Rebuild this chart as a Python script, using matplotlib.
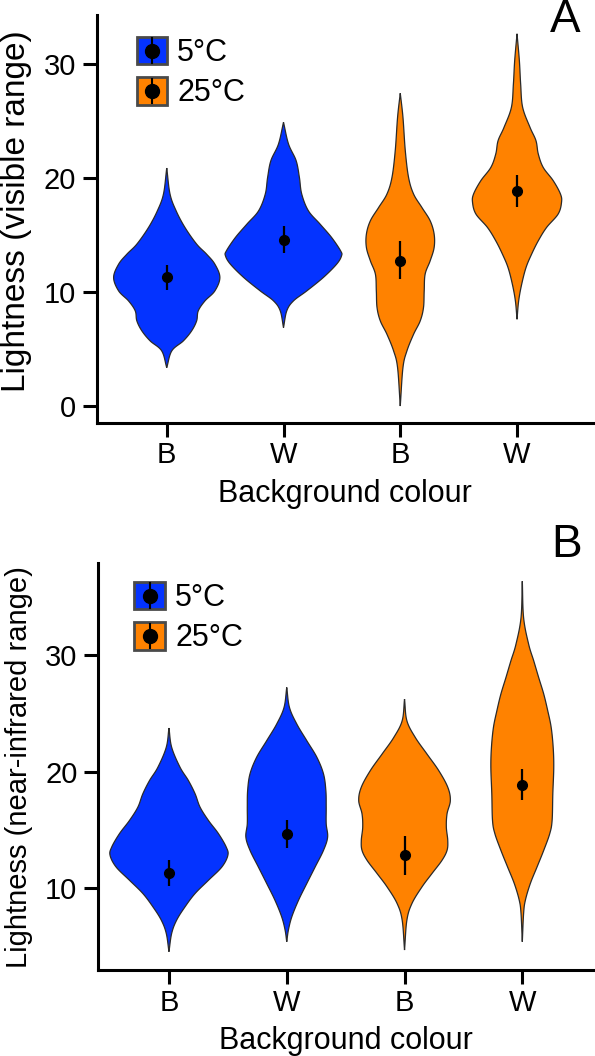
import numpy as np
import matplotlib
matplotlib.use("Agg")
import matplotlib.pyplot as plt
from matplotlib.patches import Patch, Rectangle
from matplotlib.lines import Line2D

plt.rcParams['font.family'] = ['Liberation Sans', 'DejaVu Sans']

# ---------------- data ----------------
categories = ["B", "W", "B", "W"]
temps = ["5°C", "25°C"]
positions = [1, 2, 3, 4]

# Panel A (visible range) violin profiles: value levels and half-widths (x units)
A1_y = [20.9, 18.62, 17.15, 15.68, 14.22, 13.34, 12.46, 11.29, 10.11, 9.23, 8.36, 7.48, 6.6, 5.72, 4.84, 3.37]
A1_w = [0.0, 0.028, 0.080, 0.156, 0.256, 0.341, 0.412, 0.455, 0.412, 0.327, 0.27, 0.256, 0.213, 0.142, 0.043, 0.0]
A2_y = [24.92, 23.01, 21.55, 20.08, 18.62, 17.15, 15.98, 14.8, 13.63, 13.19, 12.46, 11.29, 10.11, 9.23, 8.36, 6.89]
A2_w = [0.0, 0.043, 0.108, 0.136, 0.156, 0.213, 0.313, 0.412, 0.489, 0.497, 0.455, 0.341, 0.199, 0.085, 0.028, 0.0]
A3_y = [27.47, 25.36, 22.43, 20.08, 18.62, 17.44, 16.27, 15.1, 13.92, 12.75, 11.58, 10.11, 8.65, 7.48, 6.3, 4.84, 3.37, 0.0]
A3_w = [0.0, 0.023, 0.043, 0.071, 0.114, 0.185, 0.256, 0.29, 0.29, 0.256, 0.213, 0.205, 0.199, 0.171, 0.114, 0.057, 0.023, 0.0]
A4_y = [32.69, 30.34, 28.29, 26.24, 24.48, 23.31, 22.14, 20.96, 19.79, 18.62, 17.88, 16.86, 15.68, 14.51, 13.34, 12.16, 10.7, 9.23, 7.62]
A4_w = [0.0, 0.02, 0.031, 0.048, 0.111, 0.162, 0.182, 0.224, 0.31, 0.372, 0.381, 0.352, 0.253, 0.182, 0.125, 0.077, 0.04, 0.014, 0.0]
A_mean = [11.29, 14.60, 12.75, 18.85]
A_lo = [10.20, 13.43, 11.14, 17.44]
A_hi = [12.40, 15.77, 14.45, 20.29]

# Panel B (near-infrared range)
B1_y = [23.73, 22.08, 20.37, 19.23, 18.09, 16.95, 15.81, 14.68, 13.53, 12.82, 11.82, 10.68, 9.55, 8.4, 7.26, 6.13, 4.56]
B1_w = [0.0, 0.023, 0.094, 0.165, 0.222, 0.264, 0.335, 0.42, 0.486, 0.5, 0.449, 0.335, 0.222, 0.136, 0.065, 0.023, 0.0]
B2_y = [27.21, 25.5, 24.08, 22.65, 21.22, 19.8, 18.38, 16.95, 15.53, 14.38, 13.25, 11.82, 10.4, 8.97, 7.55, 6.41, 5.41]
B2_w = [0.0, 0.023, 0.085, 0.17, 0.256, 0.312, 0.332, 0.335, 0.335, 0.347, 0.312, 0.241, 0.17, 0.1, 0.043, 0.014, 0.0]
B3_y = [26.21, 24.36, 22.93, 21.51, 20.09, 18.66, 17.52, 16.38, 15.24, 14.1, 13.25, 12.39, 11.26, 10.11, 8.69, 7.26, 4.7]
B3_w = [0.0, 0.02, 0.091, 0.19, 0.29, 0.367, 0.389, 0.361, 0.355, 0.367, 0.361, 0.318, 0.233, 0.148, 0.063, 0.02, 0.0]
B4_y = [36.32, 33.19, 30.91, 29.49, 28.06, 26.64, 25.21, 23.79, 22.08, 20.37, 18.09, 15.81, 14.68, 13.25, 11.82, 10.4, 8.97, 7.84, 5.41]
B4_w = [0.0, 0.011, 0.054, 0.097, 0.139, 0.182, 0.216, 0.245, 0.262, 0.267, 0.259, 0.253, 0.233, 0.182, 0.125, 0.068, 0.026, 0.011, 0.0]
B_mean = [11.31, 14.62, 12.82, 18.89]
B_lo = [10.17, 13.48, 11.11, 17.52]
B_hi = [12.39, 15.81, 14.44, 20.23]

BLUE = '#0433FF'
ORANGE = '#FF8200'
violin_colors = [BLUE, BLUE, ORANGE, ORANGE]


def smooth(v, w, n=24):
    P = np.column_stack([v, w]).astype(float)
    m = np.zeros_like(P)
    m[1:-1] = (P[2:] - P[:-2]) / 2.0
    m[0] = P[1] - P[0]
    m[-1] = P[-1] - P[-2]
    t = np.linspace(0, 1, n, endpoint=False)[:, None]
    h00 = 2 * t**3 - 3 * t**2 + 1
    h10 = t**3 - 2 * t**2 + t
    h01 = -2 * t**3 + 3 * t**2
    h11 = t**3 - t**2
    segs = [h00 * P[i] + h10 * m[i] + h01 * P[i + 1] + h11 * m[i + 1] for i in range(len(P) - 1)]
    segs.append(P[-1:])
    out = np.vstack(segs)
    out[:, 1] = np.clip(out[:, 1], 0, None)
    return out[:, 0], out[:, 1]


def draw_violin(ax, pos, v, w, color):
    yy, ww = smooth(v, w)
    xs = np.concatenate([pos + ww, (pos - ww)[::-1]])
    ys = np.concatenate([yy, yy[::-1]])
    ax.fill(xs, ys, facecolor=color, edgecolor='#2a2a2a', linewidth=0.9, zorder=2)


class ViolinKeyHandler:
    """Legend key: coloured square with a black mean dot and error line."""
    def legend_artist(self, legend, orig_handle, fontsize, handlebox):
        x0, y0 = -handlebox.xdescent, -handlebox.ydescent
        w, h = handlebox.width, handlebox.height
        tr = handlebox.get_transform()
        rect = Rectangle((x0, y0), w, h, facecolor=orig_handle.get_facecolor(),
                         edgecolor='#4a4a4a', linewidth=2, transform=tr)
        vline = Line2D([x0 + w / 2, x0 + w / 2], [y0 + 1, y0 + h - 1], color='k',
                       linewidth=1.5, transform=tr)
        dot = Line2D([x0 + w / 2], [y0 + h / 2], marker='o', markersize=10, color='k',
                     linestyle='None', transform=tr)
        handlebox.add_artist(rect)
        handlebox.add_artist(vline)
        handlebox.add_artist(dot)
        return rect


fig = plt.figure(figsize=(5.95, 10.56), dpi=100)
axA = fig.add_axes([0.1625, 0.5991, 0.834, 0.3867])
axB = fig.add_axes([0.1652, 0.0810, 0.8314, 0.3861])

panels = [
    dict(ax=axA, profs=[(A1_y, A1_w), (A2_y, A2_w), (A3_y, A3_w), (A4_y, A4_w)],
         mean=A_mean, lo=A_lo, hi=A_hi, ylim=(-1.52, 34.34), yticks=[0, 10, 20, 30],
         ylabel="Lightness (visible range)", ylfs=24, ylab_y=0.52, xlim=(0.40, 4.65),
         legpos=(0.0806, 0.946)),
    dict(ax=axB, profs=[(B1_y, B1_w), (B2_y, B2_w), (B3_y, B3_w), (B4_y, B4_w)],
         mean=B_mean, lo=B_lo, hi=B_hi, ylim=(2.95, 37.9), yticks=[10, 20, 30],
         ylabel="Lightness (near-infrared range)", ylfs=21, ylab_y=0.5, xlim=(0.40, 4.60),
         legpos=(0.073, 0.953)),
]

for p in panels:
    ax = p['ax']
    for pos, (v, w), c in zip(positions, p['profs'], violin_colors):
        draw_violin(ax, pos, v, w, c)
    mean = np.array(p['mean']); lo = np.array(p['lo']); hi = np.array(p['hi'])
    ax.errorbar(positions, mean, yerr=[mean - lo, hi - mean], fmt='o', color='k',
                markersize=7, elinewidth=1.6, capsize=0, zorder=3)
    ax.set_xlim(*p['xlim'])
    ax.set_ylim(*p['ylim'])
    ax.set_yticks(p['yticks'])
    ax.set_xticks(positions)
    ax.set_xticklabels(categories)
    for s in ['top', 'right']:
        ax.spines[s].set_visible(False)
    for s in ['left', 'bottom']:
        ax.spines[s].set_linewidth(2.2)
    ax.tick_params(axis='both', length=10, width=2.2, labelsize=21, direction='out')
    ax.tick_params(axis='y', pad=5)
    ax.tick_params(axis='x', pad=3)
    ax.set_ylabel(p['ylabel'], fontsize=p['ylfs'])
    ax.yaxis.set_label_coords(-0.131, p['ylab_y'])
    ax.set_xlabel("Background colour", fontsize=22, labelpad=7)

    handles = [Patch(facecolor=c) for c in [BLUE, ORANGE]]
    ax.legend(handles, temps, handler_map={Patch: ViolinKeyHandler()},
              loc='upper left', bbox_to_anchor=p['legpos'], frameon=False, fontsize=22,
              handlelength=1.0, handleheight=1.0, handletextpad=0.33, labelspacing=0.3,
              borderpad=0, borderaxespad=0)

fig.text(0.95, 0.981, "A", fontsize=33, ha='center', va='center')
fig.text(0.953, 0.484, "B", fontsize=33, ha='center', va='center')

fig.savefig("out.png", dpi=100)
